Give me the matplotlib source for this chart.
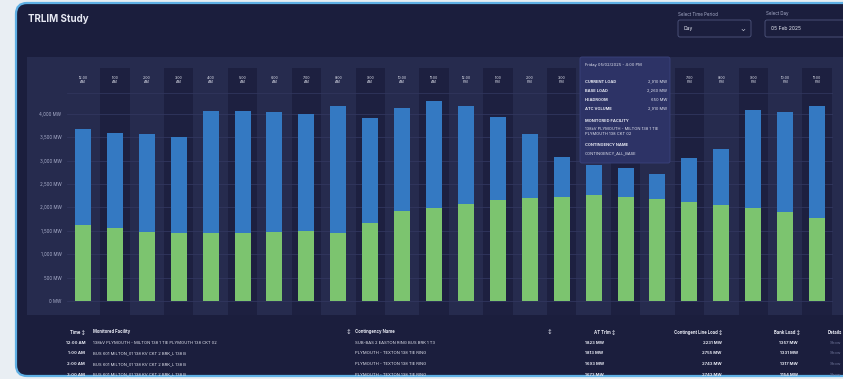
import matplotlib
matplotlib.use("Agg")
import matplotlib.pyplot as plt
from matplotlib.patches import FancyBboxPatch

plt.rcParams["font.family"] = ["Inter", "DejaVu Sans"]

# Hourly loading for the selected day
hours = ["12:00\nAM", "1:00\nAM", "2:00\nAM", "3:00\nAM", "4:00\nAM", "5:00\nAM",
         "6:00\nAM", "7:00\nAM", "8:00\nAM", "9:00\nAM", "10:00\nAM", "11:00\nAM",
         "12:00\nPM", "1:00\nPM", "2:00\nPM", "3:00\nPM", "4:00\nPM", "5:00\nPM",
         "6:00\nPM", "7:00\nPM", "8:00\nPM", "9:00\nPM", "10:00\nPM", "11:00\nPM"]
base_load = [1620, 1550, 1480, 1460, 1450, 1460, 1480, 1500, 1460, 1670, 1930, 1980,
             2070, 2160, 2210, 2230, 2260, 2230, 2170, 2120, 2050, 1980, 1900, 1780]
headroom = [2050, 2030, 2080, 2040, 2620, 2600, 2570, 2490, 2710, 2250, 2190, 2300,
            2100, 1780, 1360, 850, 650, 610, 540, 930, 1200, 2100, 2150, 2390]
y_ticks = [0, 500, 1000, 1500, 2000, 2500, 3000, 3500, 4000]

hover_index = 16
hover_day = "Friday 05/02/2025"
facility = "138kV PLYMOUTH - MILTON 138 1 TIE\nPLYMOUTH 138 CKT 02"
contingency = "CONTINGENCY_ALL_BASE"

# Result table below the chart
table_header = ["Time", "Monitored Facility", "Contingency Name", "AT Trlm",
                "Contingent Line Load", "Bank Load", "Details"]
table_time = ["12:00 AM", "1:00 AM", "2:00 AM", "3:00 AM"]
table_facility = ["138kV PLYMOUTH - MILTON 138 1 TIE PLYMOUTH 138 CKT 02",
                  "BUS 601 MILTON_01 138 KV CKT 2 BRK_L 138 B",
                  "BUS 601 MILTON_01 138 KV CKT 2 BRK_L 138 B",
                  "BUS 601 MILTON_01 138 KV CKT 2 BRK_L 138 B"]
table_contingency = ["SUB-BAS 2 EASTON RING BUS BRK 1 T3",
                     "PLYMOUTH - TEXTON 138 TIE RING",
                     "PLYMOUTH - TEXTON 138 TIE RING",
                     "PLYMOUTH - TEXTON 138 TIE RING"]
table_trlm = ["1823 MW", "1813 MW", "1693 MW", "1673 MW"]
table_line = ["2231 MW", "2755 MW", "2743 MW", "2743 MW"]
table_bank = ["1357 MW", "1331 MW", "1317 MW", "1154 MW"]

W, H = 843, 379
PAGE = "#e9eef3"
CARD = "#1b1e3d"
PANEL = "#262b4e"
BAND = "#1d2040"
GREEN = "#7cc46f"
BLUE = "#3479c2"
TEXT = "#e6e8f2"
MUTED = "#a9aecb"

fig = plt.figure(figsize=(W / 100, H / 100), dpi=100, facecolor=PAGE)
inch = fig.dpi_scale_trans


def box(x0, y0, x1, y1, r=0, **kw):
    # pixel coords with origin at top-left
    p = FancyBboxPatch((x0 / 100, (H - y1) / 100), (x1 - x0) / 100, (y1 - y0) / 100,
                       boxstyle=f"round,pad=0,rounding_size={r / 100}",
                       transform=inch, **kw)
    fig.add_artist(p)
    return p


def label(x, y, s, **kw):
    kw.setdefault("color", TEXT)
    kw.setdefault("va", "center")
    fig.text(x / W, 1 - y / H, s, **kw)


# card and chart panel
box(16, 3, 900, 376, r=11, facecolor=CARD, edgecolor="#5fb0e5", lw=1.6, zorder=-3)
box(27, 57, 900, 315, facecolor=PANEL, edgecolor="none", zorder=-2)

label(28, 19, "TRLIM Study", fontsize=7, fontweight="bold")

# period / day selectors
label(678, 14, "Select Time Period", fontsize=3.2, color=MUTED)
box(678, 20, 751, 37, r=2, facecolor=CARD, edgecolor="#50577f", lw=0.6)
label(684, 28.5, "Day", fontsize=3.6)
label(743, 29, "⌄", fontsize=4.5, ha="center")
label(766, 14, "Select Day", fontsize=3.2, color=MUTED)
box(765, 20, 880, 37, r=2, facecolor=CARD, edgecolor="#50577f", lw=0.6)
label(771, 28.5, "05 Feb 2025", fontsize=3.6)

# stacked bar chart
ax = fig.add_axes([67 / W, 1 - 315 / H, 766 / W, 247 / H])
ax.set_facecolor("none")
x = range(len(hours))
for i in x:
    if i % 2 == 1:
        ax.axvspan(i - 0.46, i + 0.46, color=BAND, lw=0, zorder=0)
ax.bar(x, base_load, width=0.5, color=GREEN, zorder=3)
ax.bar(x, headroom, width=0.5, bottom=base_load, color=BLUE, zorder=3)
# hour headers; the ones under the tooltip stay hidden
for i, h in enumerate(hours):
    if hover_index <= i <= hover_index + 2:
        continue
    ax.text(i, 4720, h, fontsize=2.6, ha="center", va="center", color=TEXT,
            linespacing=1.0, zorder=4)
ax.axhline(4440, color="#30355c", lw=0.6, zorder=1)

ax.set_xlim(-0.5, len(hours) - 0.5)
ax.set_ylim(-300, 4980)
ax.set_yticks(y_ticks)
ax.set_yticklabels([f"{v:,} MW" for v in y_ticks])
ax.set_xticks([])
ax.tick_params(axis="y", length=0, pad=4, labelsize=3.2, labelcolor=MUTED)
ax.grid(axis="y", color="#31365e", lw=0.6, zorder=1)
for s in ax.spines.values():
    s.set_visible(False)

# hover tooltip for the selected hour
hb = base_load[hover_index]
hh = headroom[hover_index]
box(580, 57, 670, 163, r=2, facecolor="#2d3366", edgecolor="#3b427c", lw=0.6, zorder=6)
tip = dict(fontsize=2.9, zorder=7)
label(585, 65, f"{hover_day} - {hours[hover_index].replace(chr(10), ' ')}", **tip)
rows = [("CURRENT LOAD", hb + hh), ("BASE LOAD", hb), ("HEADROOM", hh),
        ("ATC VOLUME", hb + hh)]
for k, (name, val) in enumerate(rows):
    yy = 82 + 9 * k
    label(585, yy, name, fontweight="bold", **tip)
    label(667, yy, f"{val:,} MW", ha="right", **tip)
label(585, 121, "MONITORED FACILITY", fontweight="bold", **tip)
label(585, 131.5, facility, linespacing=1.5, **tip)
label(585, 145, "CONTINGENCY NAME", fontweight="bold", **tip)
label(585, 153, contingency, **tip)

# table
th = dict(fontsize=3.1, fontweight="bold")
label(85, 332, table_header[0] + " ↕", ha="right", **th)
label(93, 332, table_header[1], **th)
label(347, 332, "↕", **th)
label(355, 332, table_header[2], **th)
label(548, 332, "↕", **th)
label(615, 332, table_header[3] + " ↕", ha="right", **th)
label(722, 332, table_header[4] + " ↕", ha="right", **th)
label(800, 332, table_header[5] + " ↕", ha="right", **th)
label(828, 332, table_header[6], **th)

td = dict(fontsize=3.0)
for r in range(len(table_time)):
    yy = 343 + 10.5 * r
    label(85, yy, table_time[r], ha="right", fontweight="bold", **td)
    label(93, yy, table_facility[r], **td)
    label(355, yy, table_contingency[r], **td)
    label(585, yy, table_trlm[r], fontweight="bold", **td)
    label(722, yy, table_line[r], ha="right", fontweight="bold", **td)
    label(798, yy, table_bank[r], ha="right", fontweight="bold", **td)
    label(830, yy, "Show", color="#6f7599", **td)

fig.savefig("out.png", dpi=100, facecolor=PAGE)
